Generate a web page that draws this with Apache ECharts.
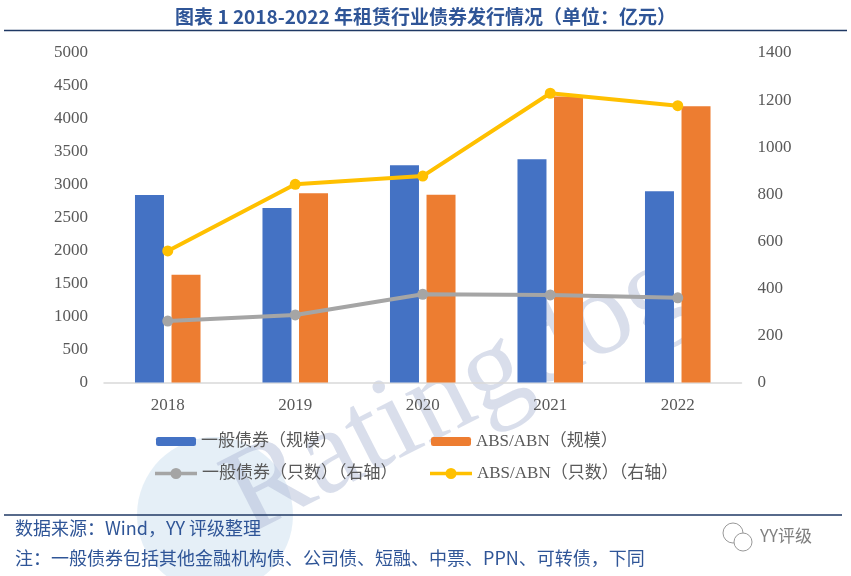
<!DOCTYPE html>
<html>
<head>
<meta charset="utf-8">
<script src="https://cdn.jsdelivr.net/npm/echarts@6/dist/echarts.min.js"></script>
<style>
html,body{margin:0;padding:0;background:#fff;}
#chart{width:851px;height:576px;}
</style>
</head>
<body>
<div id="chart"></div>
<script>
const years = ['2018', '2019', '2020', '2021', '2022'];
const generalScale = [2845, 2648, 3296, 3387, 2901];
const absScale = [1636, 2871, 2850, 4340, 4191];
const generalCount = [261, 287, 375, 372, 360];
const absCount = [559, 842, 877, 1229, 1176];

const leftTicks = {min: 0, max: 5000, interval: 500};
const rightTicks = {min: 0, max: 1400, interval: 200};

const names = ['一般债券（规模）', 'ABS/ABN（规模）', '一般债券（只数）（右轴）', 'ABS/ABN（只数）（右轴）'];

const serif = '"Liberation Serif", "Times New Roman", "Noto Sans CJK SC", serif';
const cjk = '"Noto Sans CJK SC", "Microsoft YaHei", sans-serif';
const axisLabel = {color: '#595959', fontSize: 17, fontFamily: serif, formatter: v => String(v)};
const legendText = {color: '#595959', fontSize: 17, fontFamily: serif};
const lineIcon = 'path://M0,4 L42,4 L42,7.5 L0,7.5 Z M26.5,5.75 A5.5,5.5 0 1 1 15.5,5.75 A5.5,5.5 0 1 1 26.5,5.75 Z';

const chart = echarts.init(document.getElementById('chart'));
chart.setOption({
  animation: false,
  backgroundColor: '#ffffff',
  title: {
    text: '图表 1 2018-2022 年租赁行业债券发行情况（单位：亿元）',
    left: 'center',
    top: 2,
    textStyle: {color: '#2F5597', fontSize: 19, fontWeight: 'bold', fontFamily: cjk}
  },
  grid: {left: 104, right: 109.5, top: 53, bottom: 193.5},
  legend: [
    {data: [names[0]], left: 156, top: 433, padding: 0, itemWidth: 40, itemHeight: 9, textStyle: legendText},
    {data: [names[1]], left: 431, top: 433, padding: 0, itemWidth: 40, itemHeight: 9, textStyle: legendText},
    {data: [{name: names[2], icon: lineIcon}], left: 155, top: 465, padding: 0, itemWidth: 42, itemHeight: 11, textStyle: legendText},
    {data: [{name: names[3], icon: lineIcon}], left: 430, top: 465, padding: 0, itemWidth: 42, itemHeight: 11, textStyle: legendText}
  ],
  xAxis: {
    type: 'category',
    data: years,
    axisLine: {lineStyle: {color: '#D9D9D9', width: 1.5}},
    axisTick: {show: false},
    axisLabel: Object.assign({margin: 15}, axisLabel)
  },
  yAxis: [
    Object.assign({
      type: 'value',
      splitLine: {show: false},
      axisLine: {show: false},
      axisTick: {show: false},
      axisLabel: Object.assign({margin: 16}, axisLabel)
    }, leftTicks),
    Object.assign({
      type: 'value',
      position: 'right',
      splitLine: {show: false},
      axisLine: {show: false},
      axisTick: {show: false},
      axisLabel: Object.assign({margin: 16}, axisLabel)
    }, rightTicks)
  ],
  graphic: [
    {type: 'line', shape: {x1: 4, y1: 30.5, x2: 847, y2: 30.5}, style: {stroke: '#1F3864', lineWidth: 1.5}},
    {type: 'line', shape: {x1: 4, y1: 515, x2: 842, y2: 515}, style: {stroke: '#1F3864', lineWidth: 1.5}},
    {type: 'circle', shape: {cx: 215, cy: 515, r: 78}, style: {fill: 'rgba(190,215,235,0.4)'}, z: -10},
    {type: 'text', x: 262, y: 560, rotation: 0.47, z: -10,
     style: {text: 'Ratingdog', font: '120px "Liberation Serif"', fill: 'rgba(170,182,210,0.45)', textVerticalAlign: 'bottom'}},
    {type: 'text', left: 15, top: 519, style: {text: '数据来源：Wind，YY 评级整理', font: '18px "Noto Sans CJK SC"', fill: '#2F5597'}},
    {type: 'text', left: 15, top: 549, style: {text: '注：一般债券包括其他金融机构债、公司债、短融、中票、PPN、可转债，下同', font: '18px "Noto Sans CJK SC"', fill: '#2F5597'}},
    {type: 'circle', shape: {cx: 733, cy: 533, r: 10}, style: {fill: 'none', stroke: '#999', lineWidth: 1}},
    {type: 'circle', shape: {cx: 743, cy: 542, r: 9}, style: {fill: '#fff', stroke: '#999', lineWidth: 1}},
    {type: 'text', left: 760, top: 527, style: {text: 'YY评级', font: '17px "Noto Sans CJK SC"', fill: '#808080'}}
  ],
  series: [
    {name: names[0], type: 'bar', data: generalScale, barWidth: 29, barGap: '26%', itemStyle: {color: '#4472C4'}},
    {name: names[1], type: 'bar', data: absScale, barWidth: 29, barGap: '26%', itemStyle: {color: '#ED7D31'}},
    {name: names[2], type: 'line', yAxisIndex: 1, data: generalCount, symbol: 'circle', symbolSize: 11,
     lineStyle: {color: '#A5A5A5', width: 4}, itemStyle: {color: '#A5A5A5'}},
    {name: names[3], type: 'line', yAxisIndex: 1, data: absCount, symbol: 'circle', symbolSize: 11,
     lineStyle: {color: '#FFC000', width: 4}, itemStyle: {color: '#FFC000'}}
  ]
});
</script>
</body>
</html>
